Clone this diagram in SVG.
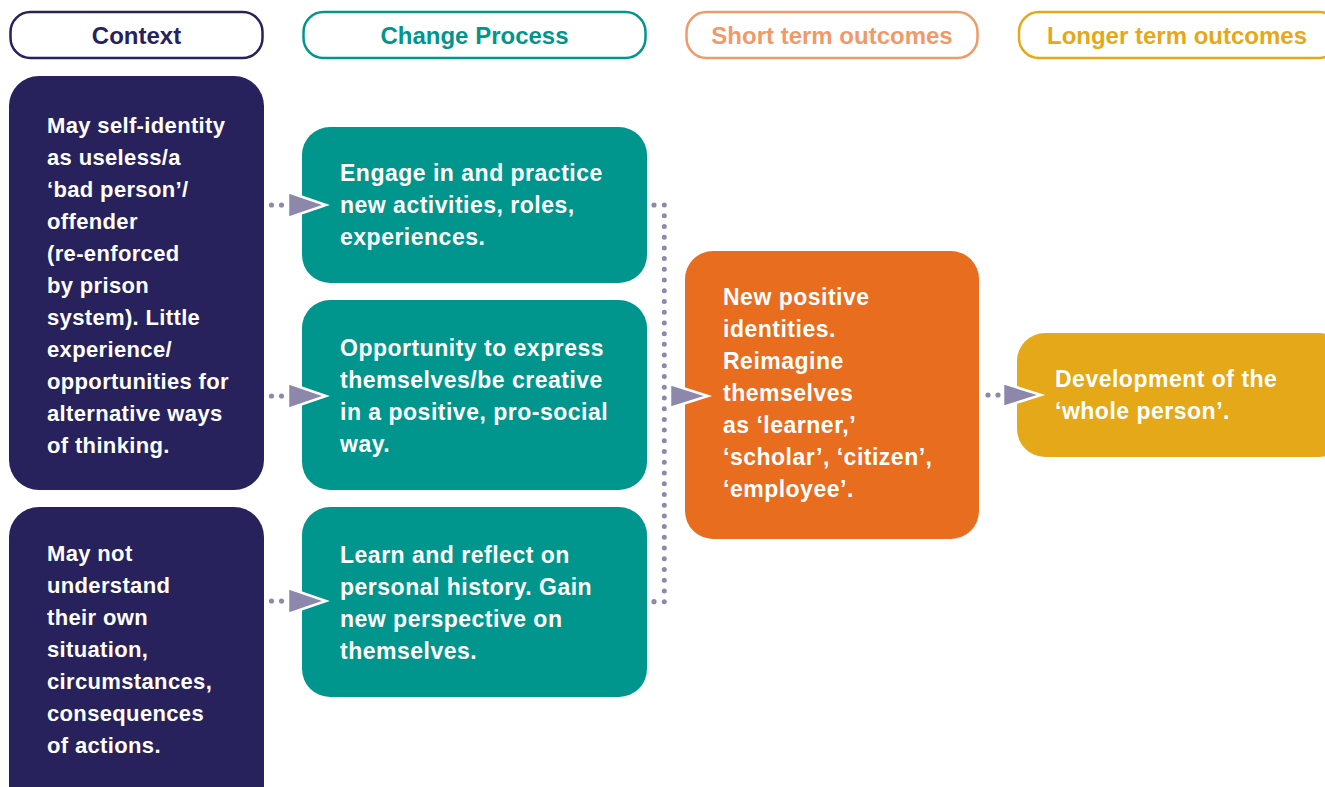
<svg xmlns="http://www.w3.org/2000/svg" width="1325" height="787" viewBox="0 0 1325 787">
<style>
.hdr{fill:#fff;stroke-width:2.5}
.ht{font-family:"Liberation Sans",Arial,sans-serif;font-weight:bold;font-size:24px;text-anchor:middle}
.bt{font-family:"Liberation Sans",Arial,sans-serif;font-weight:bold;font-size:23px;letter-spacing:0.5px;fill:#fff}
.ct{font-size:22px;letter-spacing:0.35px}
.dots{stroke:#8f88aa;stroke-width:5;stroke-linecap:round;fill:none}
.dot{fill:#8f88aa}
.ah{fill:#8d87ab;stroke:#fff;stroke-width:2.5;stroke-linejoin:miter;stroke-miterlimit:10}
</style>
<rect width="1325" height="787" fill="#fff"/>
<g id="hdr-context"><rect class="hdr" x="10.5" y="12" width="252" height="46" rx="20" stroke="#27225c"/><text class="ht" x="136.5" y="44" fill="#27225c">Context</text></g>
<g id="hdr-change"><rect class="hdr" x="303.5" y="12" width="342" height="46" rx="20" stroke="#00968d"/><text class="ht" x="474.5" y="44" fill="#00968d">Change Process</text></g>
<g id="hdr-short"><rect class="hdr" x="686.5" y="12" width="291" height="46" rx="20" stroke="#f09a6a"/><text class="ht" x="832" y="44" fill="#f09a6a">Short term outcomes</text></g>
<g id="hdr-longer"><rect class="hdr" x="1019" y="12" width="320" height="46" rx="20" stroke="#e5a818"/><text class="ht" x="1177" y="44" fill="#e5a818">Longer term outcomes</text></g>

<g id="context1"><rect x="9" y="76" width="255" height="414" rx="30" fill="#27225c"/>
<text class="bt ct"><tspan x="47" y="133">May self-identity</tspan><tspan x="47" y="165">as useless/a</tspan><tspan x="47" y="197">‘bad person’/</tspan><tspan x="47" y="229">offender</tspan><tspan x="47" y="261">(re-enforced</tspan><tspan x="47" y="293">by prison</tspan><tspan x="47" y="325">system). Little</tspan><tspan x="47" y="357">experience/</tspan><tspan x="47" y="389">opportunities for</tspan><tspan x="47" y="421">alternative ways</tspan><tspan x="47" y="453">of thinking.</tspan></text></g>
<g id="context2"><rect x="9" y="507" width="255" height="310" rx="30" fill="#27225c"/>
<text class="bt ct"><tspan x="47" y="561">May not</tspan><tspan x="47" y="593">understand</tspan><tspan x="47" y="625">their own</tspan><tspan x="47" y="657">situation,</tspan><tspan x="47" y="689">circumstances,</tspan><tspan x="47" y="721">consequences</tspan><tspan x="47" y="753">of actions.</tspan></text></g>

<g id="change1"><rect x="302" y="127" width="345" height="156" rx="28" fill="#00968d"/>
<text class="bt"><tspan x="340" y="181">Engage in and practice</tspan><tspan x="340" y="213">new activities, roles,</tspan><tspan x="340" y="245">experiences.</tspan></text></g>
<g id="change2"><rect x="302" y="300" width="345" height="190" rx="28" fill="#00968d"/>
<text class="bt"><tspan x="340" y="356">Opportunity to express</tspan><tspan x="340" y="388">themselves/be creative</tspan><tspan x="340" y="420">in a positive, pro-social</tspan><tspan x="340" y="452">way.</tspan></text></g>
<g id="change3"><rect x="302" y="507" width="345" height="190" rx="28" fill="#00968d"/>
<text class="bt"><tspan x="340" y="563">Learn and reflect on</tspan><tspan x="340" y="595">personal history. Gain</tspan><tspan x="340" y="627">new perspective on</tspan><tspan x="340" y="659">themselves.</tspan></text></g>

<g id="short"><rect x="685" y="251" width="294" height="288" rx="28" fill="#e86d1f"/>
<text class="bt"><tspan x="723" y="305">New positive</tspan><tspan x="723" y="337">identities.</tspan><tspan x="723" y="369">Reimagine</tspan><tspan x="723" y="401">themselves</tspan><tspan x="723" y="433">as ‘learner,’</tspan><tspan x="723" y="465">‘scholar’, ‘citizen’,</tspan><tspan x="723" y="497">‘employee’.</tspan></text></g>

<g id="longer"><rect x="1017" y="333" width="330" height="124" rx="28" fill="#e5a818"/>
<text class="bt"><tspan x="1055" y="387">Development of the</tspan><tspan x="1055" y="419">‘whole person’.</tspan></text></g>

<g id="connectors">
<circle class="dot" cx="271.5" cy="205" r="2.6"/><circle class="dot" cx="281.5" cy="205" r="2.6"/>
<circle class="dot" cx="271.5" cy="396" r="2.6"/><circle class="dot" cx="281.5" cy="396" r="2.6"/>
<circle class="dot" cx="271.5" cy="601" r="2.6"/><circle class="dot" cx="281.5" cy="601" r="2.6"/>
<circle class="dot" cx="988" cy="395" r="2.6"/><circle class="dot" cx="998" cy="395" r="2.6"/>
<circle class="dot" cx="654" cy="205" r="2.6"/><circle class="dot" cx="654" cy="601.7" r="2.6"/>
<path class="dots" stroke-dasharray="0 10.72" d="M664.3 205V601.7"/>
<polygon class="ah" points="288,192 326,205 288,218"/>
<polygon class="ah" points="288,383 326,396 288,409"/>
<polygon class="ah" points="288,588 326,601 288,614"/>
<polygon class="ah" points="670,384 708,396 670,408"/>
<polygon class="ah" points="1003,383 1041,395 1003,407"/>
</g>
</svg>
